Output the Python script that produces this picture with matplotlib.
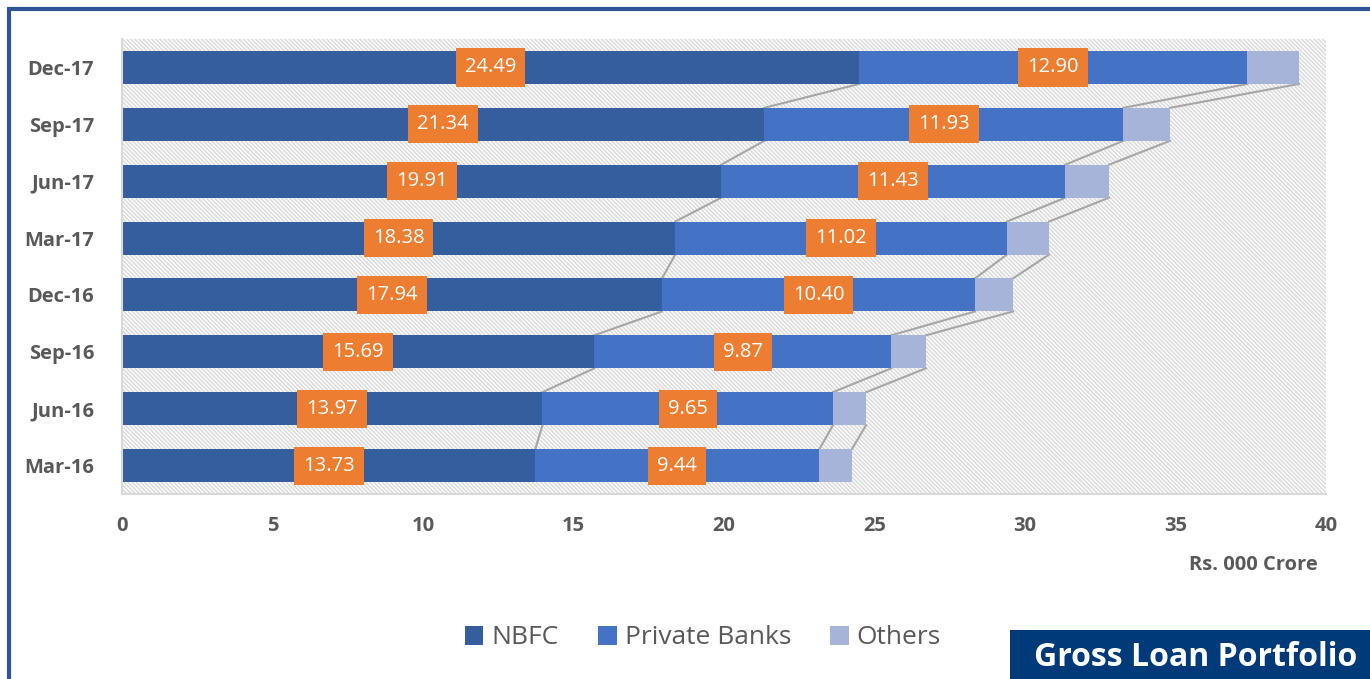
import matplotlib.pyplot as plt
from matplotlib.patches import Rectangle

periods = ["Mar-16", "Jun-16", "Sep-16", "Dec-16", "Mar-17", "Jun-17", "Sep-17", "Dec-17"]
nbfc = [13.73, 13.97, 15.69, 17.94, 18.38, 19.91, 21.34, 24.49]
private_banks = [9.44, 9.65, 9.87, 10.40, 11.02, 11.43, 11.93, 12.90]
others = [1.08, 1.10, 1.15, 1.26, 1.40, 1.45, 1.55, 1.71]

c_nbfc = "#355E9F"
c_pb = "#4472C4"
c_oth = "#A5B4D8"
c_lab = "#ED7D31"
grey = "#595959"

plt.rcParams["hatch.linewidth"] = 1.2
plt.rcParams["hatch.color"] = "#DCDCDC"

fig = plt.figure(figsize=(13.7, 6.79), dpi=100)
ax = fig.add_axes([122 / 1370, 185 / 679, 1204 / 1370, 455 / 679])

# hatched plot area background
ax.add_patch(Rectangle((0, 0), 1, 1, transform=ax.transAxes, facecolor="white",
                       edgecolor="#DCDCDC", hatch="\\" * 8, linewidth=0, zorder=0))

y = list(range(len(periods)))
h = 0.58
left2 = [a for a in nbfc]
left3 = [a + b for a, b in zip(nbfc, private_banks)]
ax.barh(y, nbfc, height=h, color=c_nbfc, label="NBFC", zorder=2)
ax.barh(y, private_banks, height=h, left=left2, color=c_pb, label="Private Banks", zorder=2)
ax.barh(y, others, height=h, left=left3, color=c_oth, label="Others", zorder=2)

# series lines between bars
ends = [nbfc, left3, [a + b for a, b in zip(left3, others)]]
for e in ends:
    for i in range(len(y) - 1):
        ax.plot([e[i + 1], e[i]], [y[i + 1] - h / 2, y[i] + h / 2], color="#A6A6A6",
                lw=1.5, zorder=1.5)

lab_font = ["Open Sans", "DejaVu Sans"]
for i in y:
    for val, x0 in ((nbfc[i], 0), (private_banks[i], nbfc[i])):
        ax.text(x0 + val / 2, i, f"{val:.2f}", ha="center", va="center", color="white",
                fontsize=14.5, family=lab_font, zorder=4,
                bbox=dict(boxstyle="square,pad=0.45", fc=c_lab, ec="none"))

ax.set_xlim(0, 40)
ax.set_ylim(-0.5, 7.5)
ax.set_xticks(range(0, 41, 5))
ax.set_yticks(y)
ax.set_yticklabels(periods)
for s in ["top", "right"]:
    ax.spines[s].set_visible(False)
ax.spines["left"].set_color("#D9D9D9")
ax.spines["bottom"].set_color("#D9D9D9")
ax.spines["left"].set_linewidth(1.5)
ax.spines["bottom"].set_linewidth(1.5)
ax.tick_params(length=0, colors=grey, labelsize=14.5, pad=16)
ax.tick_params(axis="y", pad=20)
for t in ax.get_xticklabels() + ax.get_yticklabels():
    t.set_fontweight("bold")
    t.set_family(lab_font)

fig.text(1318 / 1370, 1 - 565 / 679, "Rs. 000 Crore", ha="right", va="center",
         fontsize=14.5, fontweight="bold", color=grey, family=lab_font)

leg = fig.legend(loc="center", bbox_to_anchor=(703 / 1370, 1 - 638 / 679), ncol=3,
                 frameon=False, handlelength=0.7, handleheight=0.7,
                 handletextpad=0.3, columnspacing=1.5, prop={"family": lab_font, "size": 19})
for t in leg.get_texts():
    t.set_color(grey)

# outer border
fig.add_artist(Rectangle((9 / 1370, -0.1), 1.2, 1 - 9 / 679 + 0.1, transform=fig.transFigure,
                         fill=False, edgecolor="#2F5597", linewidth=3))

# title box
fig.add_artist(Rectangle((1010 / 1370, 0), 1 - 1010 / 1370, 49 / 679, transform=fig.transFigure,
                         facecolor="#003A78", edgecolor="none"))
fig.text(1196 / 1370, 21 / 679, "Gross Loan Portfolio", ha="center", va="center",
         fontsize=23, fontweight="bold", color="white", family=lab_font)

fig.savefig("out.png", dpi=100)
